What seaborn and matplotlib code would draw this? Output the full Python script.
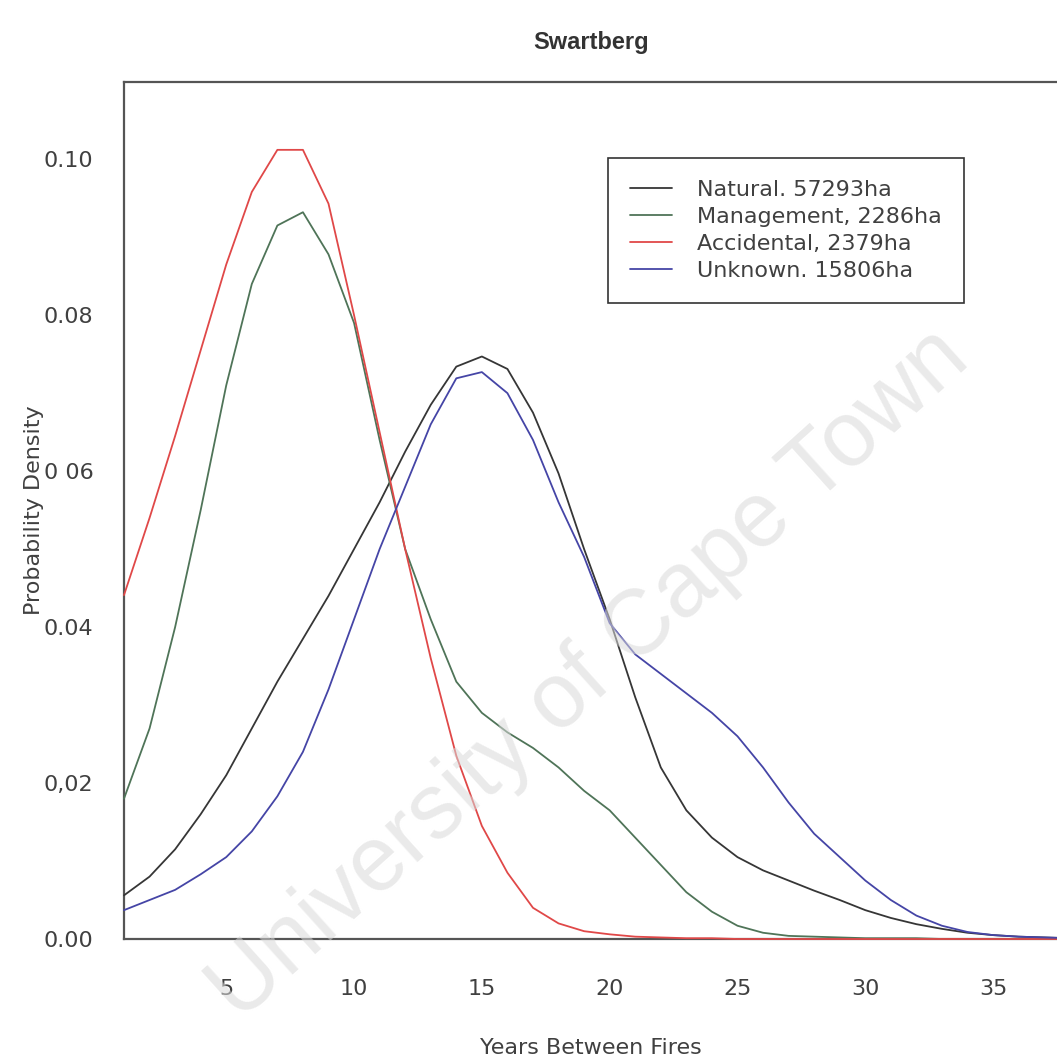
import numpy as np
import pandas as pd
import matplotlib
matplotlib.use("Agg")
import matplotlib.pyplot as plt
from matplotlib.lines import Line2D
import seaborn as sns

# ---------------- data ----------------
years = list(range(1, 41))

natural = [0.0056, 0.0080, 0.0115, 0.0160, 0.0210, 0.0270, 0.0330, 0.0385, 0.0440, 0.0500,
           0.0560, 0.0625, 0.0685, 0.0734, 0.0747, 0.0731, 0.0675, 0.0597, 0.0500, 0.0410,
           0.0310, 0.0220, 0.0165, 0.0130, 0.0105, 0.0088, 0.0075, 0.0062, 0.0050, 0.0037,
           0.0027, 0.0019, 0.0013, 0.0008, 0.0005, 0.0003, 0.0002, 0.0001, 0.0001, 0.0001]

management = [0.0180, 0.0270, 0.0400, 0.0550, 0.0710, 0.0840, 0.0915, 0.0932, 0.0878, 0.0790,
              0.0640, 0.0500, 0.0410, 0.0330, 0.0290, 0.0265, 0.0245, 0.0220, 0.0190, 0.0165,
              0.0130, 0.0095, 0.0060, 0.0035, 0.0017, 0.0008, 0.0004, 0.0003, 0.0002, 0.0001,
              0.0001, 0.0001, 0.0000, 0.0000, 0.0000, 0.0000, 0.0000, 0.0000, 0.0000, 0.0000]

accidental = [0.0441, 0.0540, 0.0645, 0.0755, 0.0865, 0.0958, 0.1012, 0.1012, 0.0943, 0.0800,
              0.0650, 0.0500, 0.0360, 0.0235, 0.0145, 0.0085, 0.0040, 0.0020, 0.0010, 0.0006,
              0.0003, 0.0002, 0.0001, 0.0001, 0.0000, 0.0000, 0.0000, 0.0000, 0.0000, 0.0000,
              0.0000, 0.0000, 0.0000, 0.0000, 0.0000, 0.0000, 0.0000, 0.0000, 0.0000, 0.0000]

unknown = [0.0037, 0.0050, 0.0063, 0.0083, 0.0105, 0.0138, 0.0183, 0.0240, 0.0320, 0.0410,
           0.0500, 0.0580, 0.0660, 0.0719, 0.0727, 0.0700, 0.0640, 0.0560, 0.0490, 0.0405,
           0.0365, 0.0340, 0.0315, 0.0290, 0.0260, 0.0220, 0.0175, 0.0135, 0.0105, 0.0075,
           0.0050, 0.0030, 0.0017, 0.0009, 0.0005, 0.0003, 0.0002, 0.0001, 0.0001, 0.0001]

series_names = ["Natural. 57293ha", "Management, 2286ha", "Accidental, 2379ha", "Unknown. 15806ha"]
series_values = [natural, management, accidental, unknown]
series_colors = ["#363636", "#4f7458", "#e04848", "#4545a6"]

x_ticks = [5, 10, 15, 20, 25, 30, 35]
y_ticks = [0.00, 0.02, 0.04, 0.06, 0.08, 0.10]
y_tick_labels = ["0.00", "0,02", "0.04", "0 06", "0.08", "0.10"]

title = "Swartberg"
x_label = "Years Between Fires"
y_label = "Probability Density"
watermark = "University of Cape Town"

# ---------------- build long table ----------------
rows = []
for name, vals in zip(series_names, series_values):
    for x, v in zip(years, vals):
        rows.append({"Years": x, "Density": v, "Cause": name})
df = pd.DataFrame(rows)

# ---------------- figure ----------------
sns.set_style("white")
plt.rcParams["font.family"] = ["DejaVu Sans"]

W, H = 1057, 1059
fig = plt.figure(figsize=(W / 100, H / 100), dpi=100)
ax = fig.add_axes([124 / W, 1 - 939 / H, (W - 124) / W, (939 - 82) / H])

palette = dict(zip(series_names, series_colors))
sns.lineplot(data=df, x="Years", y="Density", hue="Cause", hue_order=series_names,
             palette=palette, linewidth=1.3, legend=False, ax=ax, sort=True)
for ln in ax.lines:
    ln.set_zorder(3)
    ln.set_clip_on(False)

ax.set_xlim(1, 37.5)
ax.set_ylim(0, 0.1099)

text_color = "#404040"
spine_color = "#555555"
for side in ["left", "bottom", "top"]:
    ax.spines[side].set_color(spine_color)
    ax.spines[side].set_linewidth(1.6)
ax.spines["right"].set_visible(False)

ax.set_xticks(x_ticks)
ax.set_xticklabels([str(t) for t in x_ticks])
ax.set_yticks(y_ticks)
ax.set_yticklabels(y_tick_labels)
ax.tick_params(axis="both", which="major", direction="out", length=10, width=1.4,
               color=spine_color, labelsize=16, labelcolor=text_color)
ax.tick_params(axis="x", pad=19)
ax.tick_params(axis="y", pad=12)

ax.set_xlabel(x_label, fontsize=16, color=text_color, labelpad=28)
ax.set_ylabel(y_label, fontsize=16, color=text_color, labelpad=0)
fig.text(591 / W, 1 - 42 / H, title, ha="center", va="center",
         fontsize=17, fontweight="bold", color="#333333",
         family=["Liberation Sans", "DejaVu Sans"])

handles = [Line2D([0], [0], color=c, lw=1.3) for c in series_colors]
leg = ax.legend(handles, series_names, loc="upper left",
                bbox_to_anchor=(608 / W, 1 - 158 / H), bbox_transform=fig.transFigure,
                frameon=True, fancybox=False, framealpha=1, edgecolor="#333333",
                fontsize=16, borderpad=1.0, handlelength=1.9, handletextpad=1.1,
                labelspacing=0.31, borderaxespad=0)
leg.get_frame().set_linewidth(1.2)
leg.set_zorder(5)
for t in leg.get_texts():
    t.set_color(text_color)

# faint watermark present in the reference scan
fig.text(590 / W, 1 - 675 / H, watermark, ha="center", va="center", rotation=42,
         fontsize=66, color="#d9d9d9", alpha=0.55, zorder=10,
         family=["Liberation Sans", "DejaVu Sans"])

fig.savefig("out.png", dpi=100, facecolor="white")
